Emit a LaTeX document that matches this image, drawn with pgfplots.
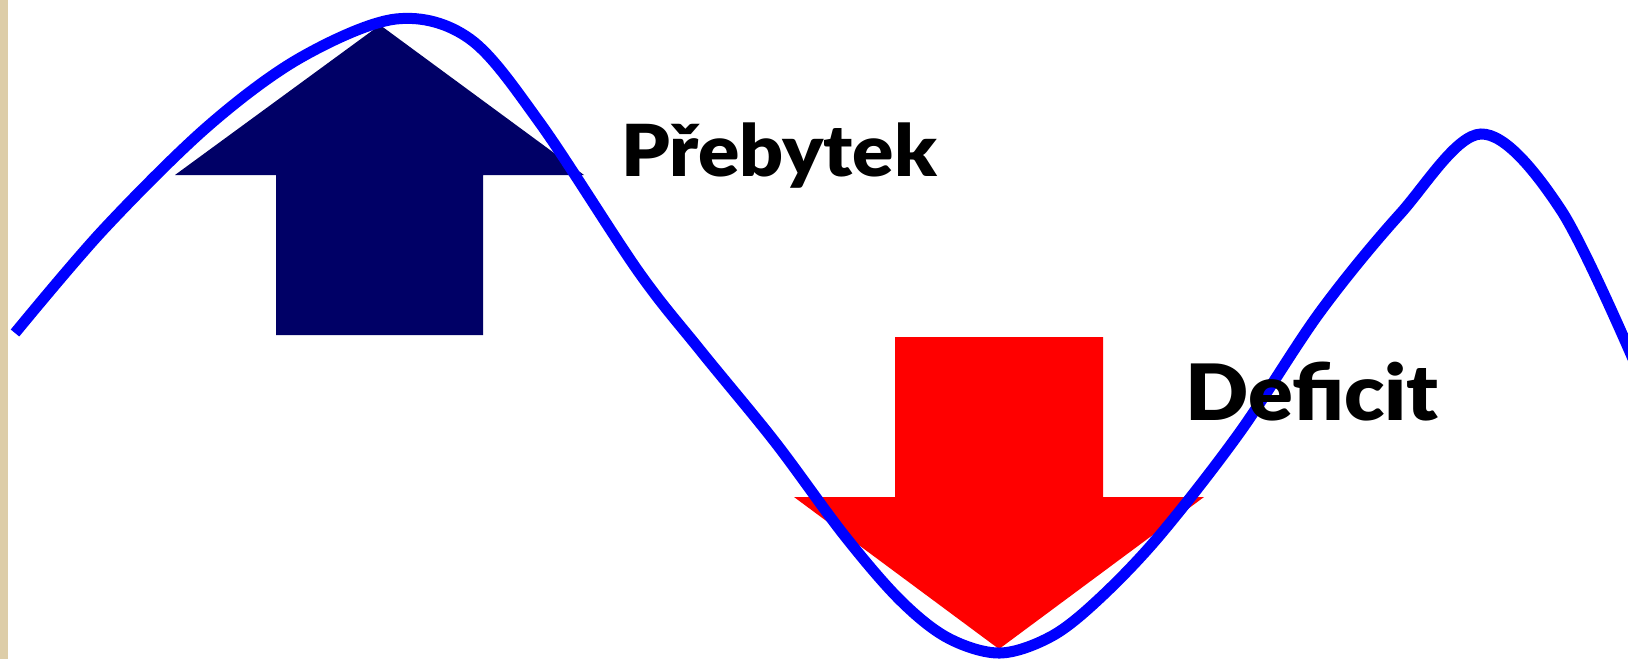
\documentclass[border=0pt]{standalone}
\usepackage{fontspec}
\setmainfont{Lato}
\newfontfamily\blackfont{Lato Black}
\usepackage{pgfplots}
\pgfplotsset{compat=1.18}
\definecolor{navyarrow}{RGB}{0,0,102}
\definecolor{strip}{RGB}{221,205,168}
\begin{document}
\begin{tikzpicture}
\begin{axis}[
  width=1628bp, height=659bp, scale only axis,
  xmin=0, xmax=1628, ymin=0, ymax=659, y dir=reverse,
  hide axis, clip=true,
]
% left decorative strip
\addplot[draw=none, fill=strip] coordinates {(0,0) (8,0) (8,659) (0,659)} -- cycle;
% up arrow (Přebytek)
\addplot[draw=none, fill=navyarrow] coordinates {
  (380,25) (584,175) (483,175) (483,335) (276,335) (276,175) (175,175)} -- cycle;
% down arrow (Deficit)
\addplot[draw=none, fill=red] coordinates {
  (895,337) (1103,337) (1103,497) (1204,497) (999,649) (794,497) (895,497)} -- cycle;
% blue wave
\addplot[blue, line width=11bp, smooth, tension=0.55] coordinates {
  (15,333) (103,230) (207,127) (300,58) (396,19) (470,39) (540,123)
  (638,271) (700,350) (775,442) (844,535) (900,600) (948,638) (1000,653)
  (1052,636) (1100,598) (1160,535) (1240,432) (1320,312) (1400,214)
  (1481,134) (1561,210) (1640,375)};
\node[anchor=base west, inner sep=0pt, font=\fontsize{72}{80}\selectfont\blackfont] at (axis cs:621,176) {\scalebox{1.07}[1]{Přebytek}};
\node[anchor=base west, inner sep=0pt, font=\fontsize{78}{86}\selectfont\blackfont] at (axis cs:1185,420) {\scalebox{1.07}[1]{Deficit}};
\end{axis}
\end{tikzpicture}
\end{document}
